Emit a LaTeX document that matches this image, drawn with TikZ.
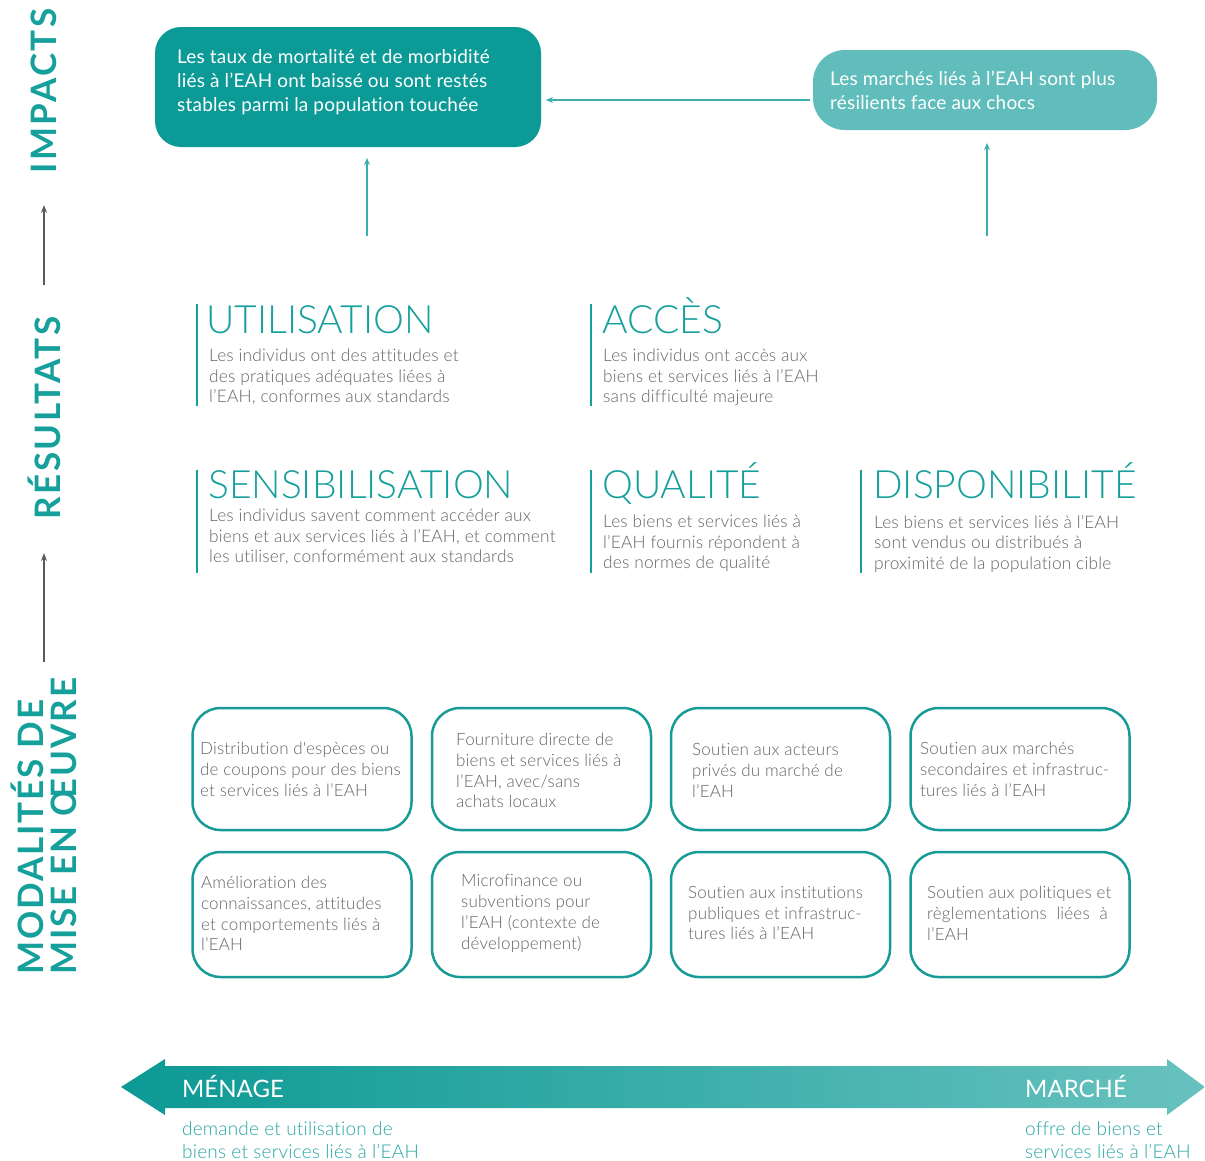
\documentclass[tikz,border=0pt]{standalone}
\usepackage{fontspec}
\setmainfont{Lato}[LetterSpace=1,Ligatures=NoCommon]
\newfontfamily\lightf{Lato Light}[LetterSpace=1,Ligatures=NoCommon]
\newfontfamily\titlef{Lato Light}
\newfontfamily\plainf{Lato}
\newfontfamily\sidef{Lato}[LetterSpace=7]
\newfontfamily\sidemodf{Lato}[LetterSpace=5.5]
\usetikzlibrary{arrows.meta}
\definecolor{tealA}{RGB}{12,154,151}
\definecolor{tealB}{RGB}{96,189,188}
\definecolor{tealT}{RGB}{22,160,156}
\definecolor{tealS}{RGB}{38,166,162}
\definecolor{tealL}{RGB}{60,175,172}
\definecolor{boxteal}{RGB}{24,155,150}
\definecolor{grayT}{RGB}{96,100,104}
\definecolor{grayA}{RGB}{90,90,90}
\definecolor{gradL}{RGB}{12,153,148}
\definecolor{gradR}{RGB}{104,194,191}
\tikzset{
  sidelab/.style={inner sep=0, text=tealT, font=\sidef\bfseries\fontsize{35}{33}\selectfont},
  sidemod/.style={inner sep=0, text=tealT, font=\sidemodf\bfseries\fontsize{35}{33}\selectfont},
  grayarrow/.style={draw=grayA, line width=1.5pt, -{Stealth[length=8pt,width=6pt]}},
  tealarrow/.style={draw=tealL, line width=1.2pt, -{Stealth[length=7pt,width=6pt]}},
  impbox/.style={rounded corners=26pt, draw=none, inner sep=0},
  whitetxt/.style={inner sep=0, text=white, align=left, font=\fontsize{19}{24}\selectfont},
  bar/.style={draw=tealT, line width=2.2pt},
  restitle/.style={inner sep=0, text=tealT, font=\titlef\fontsize{39}{40}\selectfont},
  resdesc/.style={inner sep=0, text=grayT, align=left, font=\lightf\fontsize{17.3}{20.6}\selectfont},
  modbox/.style={draw=boxteal, line width=2.5pt, rounded corners=28pt, minimum width=219pt, inner sep=0},
  modtxt/.style={inner sep=0, text=grayT, align=left, font=\lightf\fontsize{17}{20.8}\selectfont},
  axislab/.style={inner sep=0, text=white, font=\plainf\fontsize{24}{26}\selectfont},
  axisdesc/.style={inner sep=0, text=tealS, align=left, font=\lightf\fontsize{19}{23.5}\selectfont}
}
\begin{document}
\begin{tikzpicture}[x=1pt,y=-1pt]
\useasboundingbox (0,0) rectangle (1205,1160);

% side labels
\node[sidelab, rotate=90] (limp) at (44,91) {IMPACTS};
\node[sidelab, rotate=90] (lres) at (44,418) {RÉSULTATS};
\node[sidemod, rotate=90, anchor=west, align=left] (lmod) at (44,975) {MODALITÉS DE\\MISE EN ŒUVRE};
\coordinate (ga1s) at (44,285); \coordinate (ga1e) at (44,205);
\coordinate (ga2s) at (44,662); \coordinate (ga2e) at (44,553);
\draw[grayarrow] (ga1s) -- (ga1e);
\draw[grayarrow] (ga2s) -- (ga2e);

% impacts
\node[impbox, fill=tealA, minimum width=386pt, minimum height=120pt] (imp1) at (348,87) {};
\node[whitetxt, anchor=west] (imp1t) at (177,82) {Les taux de mortalité et de morbidité\\liés à l’EAH ont baissé ou sont restés\\stables parmi la population touchée};
\node[impbox, fill=tealB, rounded corners=32pt, minimum width=344pt, minimum height=80pt] (imp2) at (985,90) {};
\node[whitetxt, anchor=west] (imp2t) at (830,90) {Les marchés liés à l’EAH sont plus\\résilients face aux chocs};
\coordinate (h1) at (810,100); \coordinate (h2) at (546,100);
\draw[tealarrow] (h1) -- (h2);
\coordinate (v1s) at (367,236); \coordinate (v1e) at (367,158);
\coordinate (v2s) at (987,236); \coordinate (v2e) at (987,143);
\draw[tealarrow] (v1s) -- (v1e);
\draw[tealarrow] (v2s) -- (v2e);

% results
\coordinate (b1s) at (197,304); \coordinate (b1e) at (197,406);
\coordinate (b2s) at (591,304); \coordinate (b2e) at (591,406);
\coordinate (b3s) at (197,470); \coordinate (b3e) at (197,573);
\coordinate (b4s) at (591,470); \coordinate (b4e) at (591,573);
\coordinate (b5s) at (861,470); \coordinate (b5e) at (861,573);
\draw[bar] (b1s) -- (b1e);
\draw[bar] (b2s) -- (b2e);
\draw[bar] (b3s) -- (b3e);
\draw[bar] (b4s) -- (b4e);
\draw[bar] (b5s) -- (b5e);

\node[restitle, anchor=base west] (t1) at (206,333) {UTILISATION};
\node[resdesc, anchor=north west] (d1) at (209,349) {Les individus ont des attitudes et\\des pratiques adéquates liées à\\l’EAH, conformes aux standards};
\node[restitle, anchor=base west] (t2) at (602,333) {ACCÈS};
\node[resdesc, anchor=north west] (d2) at (603,349) {Les individus ont accès aux\\biens et services liés à l’EAH\\sans difficulté majeure};
\node[restitle, anchor=base west] (t3) at (208,498) {SENSIBILISATION};
\node[resdesc, anchor=north west] (d3) at (209,509) {Les individus savent comment accéder aux\\biens et aux services liés à l’EAH, et comment\\les utiliser, conformément aux standards};
\node[restitle, anchor=base west] (t4) at (602,498) {QUALITÉ};
\node[resdesc, anchor=north west] (d4) at (603,515) {Les biens et services liés à\\l’EAH fournis répondent à\\des normes de qualité};
\node[restitle, anchor=base west] (t5) at (873,498) {DISPONIBILITÉ};
\node[resdesc, anchor=north west] (d5) at (874,515) {Les biens et services liés à l’EAH\\sont vendus ou distribués à\\proximité de la population cible};

% modalities
\node[modbox, minimum height=122pt] (m1) at (302,769) {};
\node[modbox, minimum height=122pt] (m2) at (541.5,769) {};
\node[modbox, minimum height=122pt] (m3) at (780.5,769) {};
\node[modbox, minimum height=122pt] (m4) at (1020,769) {};
\node[modbox, minimum height=125pt] (m5) at (302,914.5) {};
\node[modbox, minimum height=125pt] (m6) at (541.5,914.5) {};
\node[modbox, minimum height=125pt] (m7) at (780.5,914.5) {};
\node[modbox, minimum height=125pt] (m8) at (1020,914.5) {};
\node[modtxt, anchor=west] (m1t) at (200,769.5) {Distribution d'espèces ou\\de coupons pour des biens\\et services liés à l’EAH};
\node[modtxt, anchor=west] (m2t) at (456,770.5) {Fourniture directe de\\biens et services liés à\\l’EAH, avec/sans\\achats locaux};
\node[modtxt, anchor=west] (m3t) at (692,770.5) {Soutien aux acteurs\\privés du marché de\\l’EAH};
\node[modtxt, anchor=west] (m4t) at (920,769.5) {Soutien aux marchés\\secondaires et infrastruc-\\tures liés à l’EAH};
\node[modtxt, anchor=west] (m5t) at (201,913.5) {Amélioration des\\connaissances, attitudes\\et comportements liés à\\l’EAH};
\node[modtxt, anchor=west] (m6t) at (461,913.5) {Microfinance ou\\subventions pour\\l’EAH (contexte de\\développement)};
\node[modtxt, anchor=west] (m7t) at (688,913) {Soutien aux institutions\\publiques et infrastruc-\\tures liés à l’EAH};
\node[modtxt, anchor=west] (m8t) at (927,913.5) {Soutien aux politiques et\\règlementations\hspace{5pt} liées\hspace{5pt} à\\l’EAH};

% axis arrow
\shade[left color=gradL, right color=gradR]
  (121,1087) -- (165,1059) -- (165,1066) -- (1167,1066) -- (1167,1059) -- (1205,1087)
  -- (1167,1115) -- (1167,1108) -- (165,1108) -- (165,1115) -- cycle;
\node[axislab, anchor=base west] (men) at (182,1097) {MÉNAGE};
\node[axislab, anchor=base west] (mar) at (1025,1097) {MARCHÉ};
\node[axisdesc, anchor=north west] (mend) at (182,1121) {demande et utilisation de\\biens et services liés à l’EAH};
\node[axisdesc, anchor=north west] (mard) at (1025,1121) {offre de biens et\\services liés à l’EAH};
\end{tikzpicture}
\end{document}
